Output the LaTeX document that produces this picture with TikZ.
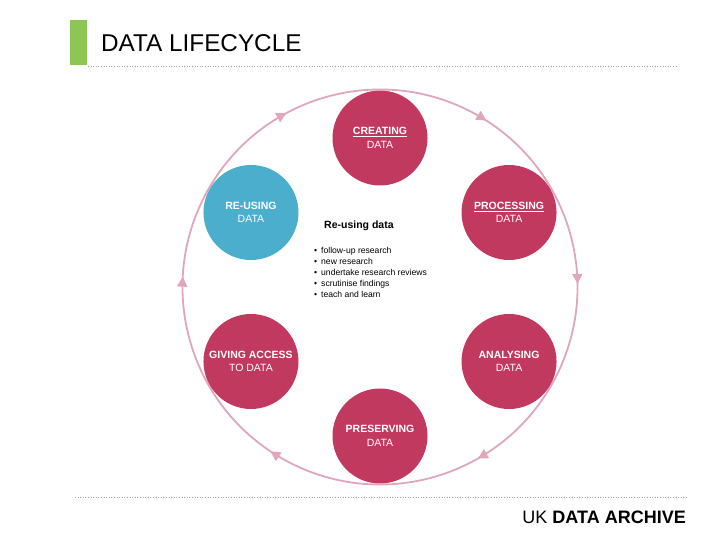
\documentclass[tikz,border=0pt]{standalone}
\usepackage{fontspec}
\setmainfont{Liberation Sans}
\usetikzlibrary{arrows.meta,decorations.markings,calc}
\definecolor{crim}{HTML}{C1395F}
\definecolor{reblue}{HTML}{4BAECD}
\definecolor{ringpink}{HTML}{E0A6BC}
\definecolor{barg}{HTML}{8CC655}
\tikzset{
  stage/.style={circle, fill=crim, minimum size=95pt, inner sep=0pt, text=white, align=center,
    font=\fontsize{10.5}{13.5}\selectfont},
  reuse/.style={stage, fill=reblue},
  dotline/.style={draw=gray!70, line width=0.6pt, dotted},
  ringtip/.tip={Triangle[length=10pt,width=10pt]},
}
\begin{document}
\begin{tikzpicture}[x=1pt,y=1pt]
\useasboundingbox (0,0) rectangle (720,540);
% header
\fill[barg] (70,475) rectangle (87,520);
\node[anchor=base west, inner sep=0pt, font=\fontsize{24.3}{27}\selectfont] (title) at (101,488) {DATA LIFECYCLE};
\coordinate (h1) at (88,474); \coordinate (h2) at (678,474);
\draw[dotline] (h1) -- (h2);
% footer
\coordinate (f1) at (75,43); \coordinate (f2) at (688,43);
\draw[dotline] (f1) -- (f2);
\node[anchor=base east, inner sep=0pt, font=\fontsize{18}{20}\selectfont] (brand) at (686,16) {UK \textbf{DATA ARCHIVE}};
% ring
\coordinate (c) at (380,253);
\draw[ringpink, line width=1.8pt, postaction={decorate},
  decoration={markings,
    mark=at position 0.0881 with {\arrow{ringtip}},
    mark=at position 0.2572 with {\arrow{ringtip}},
    mark=at position 0.4142 with {\arrow{ringtip}},
    mark=at position 0.5842 with {\arrow{ringtip}},
    mark=at position 0.7603 with {\arrow{ringtip}},
    mark=at position 0.925 with {\arrow{ringtip}}}]
  ($(c)+(150:197.5)$) arc[start angle=150, end angle=-210, radius=197.5];
% stages
\node[stage] (create) at ($(c)+(90:149)$) {\textbf{\underline{CREATING}}\\DATA};
\node[stage] (process) at ($(c)+(30:149)$) {\textbf{\underline{PROCESSING}}\\DATA};
\node[stage] (analyse) at ($(c)+(-30:149)$) {\textbf{ANALYSING}\\DATA};
\node[stage] (preserve) at ($(c)+(-90:149)$) {\textbf{PRESERVING}\\DATA};
\node[stage] (access) at ($(c)+(-150:149)$) {\textbf{GIVING ACCESS}\\TO DATA};
\node[reuse] (reuse) at ($(c)+(150:149)$) {\textbf{RE-USING}\\DATA};
% description
\node[anchor=base west, inner sep=0pt, font=\fontsize{10.5}{12}\selectfont\bfseries] (rtitle) at (324,311) {Re-using data};
\node[anchor=north west, inner sep=0pt, align=left, font=\fontsize{8.6}{11}\selectfont] (rlist) at (314,293)
 {\textbullet\hspace{4pt}follow-up research\\
  \textbullet\hspace{4pt}new research\\
  \textbullet\hspace{4pt}undertake research reviews\\
  \textbullet\hspace{4pt}scrutinise findings\\
  \textbullet\hspace{4pt}teach and learn};
\end{tikzpicture}
\end{document}
